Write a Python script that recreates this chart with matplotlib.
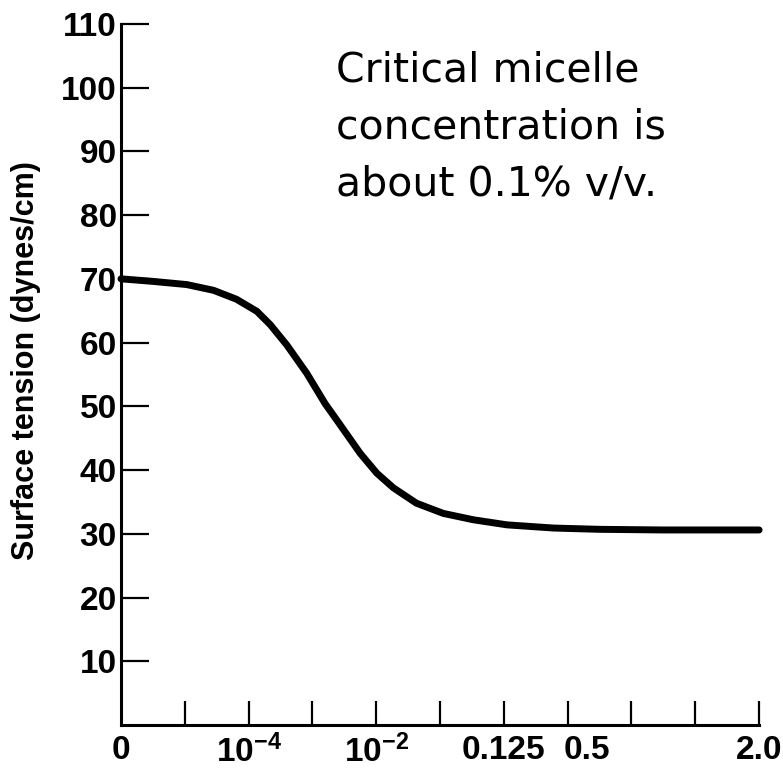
import matplotlib
matplotlib.use("Agg")
import matplotlib.pyplot as plt

# curve (x in tick units, 0..10)
curve_x = [0.0, 0.5, 1.03, 1.45, 1.81, 2.13, 2.34, 2.6, 2.91, 3.2, 3.42, 3.75,
           4.01, 4.27, 4.63, 5.05, 5.52, 6.05, 6.78, 7.5, 8.5, 10.0]
curve_y = [70.0, 69.6, 69.1, 68.2, 66.8, 64.9, 62.8, 59.6, 55.2, 50.4, 47.3, 42.6,
           39.5, 37.2, 34.8, 33.2, 32.2, 31.4, 30.9, 30.7, 30.6, 30.6]

y_ticks = [10, 20, 30, 40, 50, 60, 70, 80, 90, 100, 110]
x_tick_marks = [1, 2, 3, 4, 5, 6, 7, 8, 9, 10]
x_label_positions = [0, 2, 4, 6, 7.3, 10]
x_labels = ["0", r"$\mathbf{10^{-4}}$", r"$\mathbf{10^{-2}}$", "0.125", "0.5", "2.0"]

plt.rcParams["mathtext.fontset"] = "custom"
plt.rcParams["mathtext.bf"] = "Liberation Sans:bold"
plt.rcParams["mathtext.rm"] = "Liberation Sans:bold"

fig = plt.figure(figsize=(7.83, 7.73), dpi=100)
ax = fig.add_axes([0.1545, 0.0621, 0.815, 0.907])

ax.plot(curve_x, curve_y, color="black", linewidth=5, solid_capstyle="round",
        solid_joinstyle="round", clip_on=False)

ax.set_xlim(0, 10)
ax.set_ylim(0, 110)
for side in ["top", "right"]:
    ax.spines[side].set_visible(False)
for side in ["left", "bottom"]:
    ax.spines[side].set_linewidth(2.2)

ax.set_yticks(y_ticks)
ax.set_yticklabels([str(v) for v in y_ticks], fontfamily="Liberation Sans",
                   fontweight="bold", fontsize=24)
ax.tick_params(axis="y", direction="in", length=20, width=1.6, pad=3)

ax.xaxis.remove_overlapping_locs = False
ax.set_xticks(x_label_positions)
ax.set_xticklabels(x_labels, fontfamily="Liberation Sans", fontweight="bold", fontsize=24)
ax.set_xticks(x_tick_marks, minor=True)
ax.tick_params(axis="x", which="major", length=0, pad=7)
ax.tick_params(axis="x", which="minor", direction="in", length=17, width=1.6)

ax.set_ylabel("Surface tension (dynes/cm)", fontfamily="Liberation Sans",
              fontweight="bold", fontsize=22)
ax.yaxis.set_label_coords(-0.125, 0.52)

ax.text(0.337, 0.962, "Critical micelle\nconcentration is\nabout 0.1% v/v.",
        transform=ax.transAxes, ha="left", va="top", fontsize=29.5,
        fontfamily="DejaVu Sans", linespacing=1.55)

fig.savefig("out.png", dpi=100)
